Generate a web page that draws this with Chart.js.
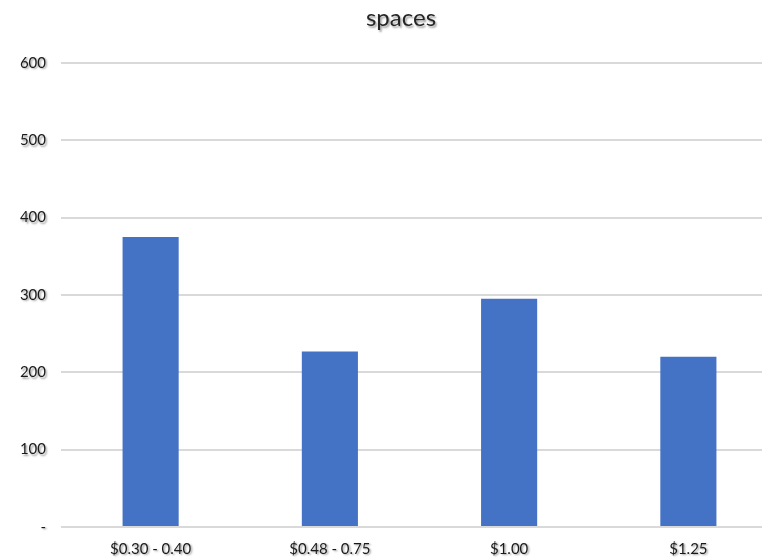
<!DOCTYPE html>
<html>
<head>
<meta charset="utf-8">
<style>
  html, body { margin: 0; padding: 0; background: #ffffff; overflow: hidden; }
  #wrap { width: 802px; height: 560px; }
</style>
<script src="https://cdn.jsdelivr.net/npm/chart.js@4/dist/chart.umd.min.js"></script>
</head>
<body>
<div id="wrap"><canvas id="chart" width="802" height="560"></canvas></div>
<script>
// Price bands and the number of spaces in each
const categories = ['$0.30 - 0.40', '$0.48 - 0.75', '$1.00', '$1.25'];
const spaces = [375, 227, 295, 220];
const yMin = 0;
const yMax = 600;
const yStep = 100;

// Soft drop shadow behind the title and the axis labels
const textShadow = {
  id: 'textShadow',
  beforeDraw(chart) {
    const ctx = chart.ctx;
    const wrap = (obj, method) => {
      if (!obj || obj.__shadowWrapped) return;
      const orig = obj[method];
      obj[method] = function (...args) {
        ctx.save();
        ctx.shadowColor = 'rgba(0, 0, 0, 0.38)';
        ctx.shadowOffsetX = 1.5;
        ctx.shadowOffsetY = 1.5;
        ctx.shadowBlur = 2;
        orig.apply(this, args);
        ctx.restore();
      };
      obj.__shadowWrapped = true;
    };
    Object.values(chart.scales).forEach(s => wrap(s, 'drawLabels'));
    wrap(chart.titleBlock, 'draw');
  }
};

new Chart(document.getElementById('chart'), {
  type: 'bar',
  data: {
    labels: categories,
    datasets: [{
      label: 'spaces',
      data: spaces,
      backgroundColor: '#4472C4',
      borderWidth: 0,
      barPercentage: 0.313,
      categoryPercentage: 1.0
    }]
  },
  options: {
    responsive: false,
    animation: false,
    layout: { padding: 0 },
    plugins: {
      legend: { display: false },
      tooltip: { enabled: false },
      title: {
        display: true,
        text: 'spaces',
        color: '#262626',
        font: { family: 'Lato', size: 24, weight: 'normal', lineHeight: 1.2 },
        padding: { top: 4, bottom: 30 }
      }
    },
    scales: {
      x: {
        grid: { display: false, drawTicks: false },
        border: { display: false },
        ticks: {
          color: '#1a1a1a',
          font: { family: 'Lato', size: 15 },
          padding: 13,
          maxRotation: 0,
          autoSkip: false
        },
        afterFit(scale) { scale.height = 33; }
      },
      y: {
        min: yMin,
        max: yMax,
        grid: { color: '#d9d9d9', lineWidth: 2, drawTicks: false },
        border: { display: false },
        ticks: {
          stepSize: yStep,
          color: '#1a1a1a',
          font: { family: 'Lato', size: 15 },
          padding: 15,
          callback: (v) => (v === 0 ? '-' : v)
        },
        afterFit(scale) { scale.width = 61; }
      },
      // empty margin on the right of the plot
      yRight: {
        position: 'right',
        grid: { display: false, drawTicks: false },
        border: { display: false },
        ticks: { display: false },
        afterFit(scale) { scale.width = 24; }
      }
    }
  },
  plugins: [textShadow]
});
</script>
</body>
</html>
